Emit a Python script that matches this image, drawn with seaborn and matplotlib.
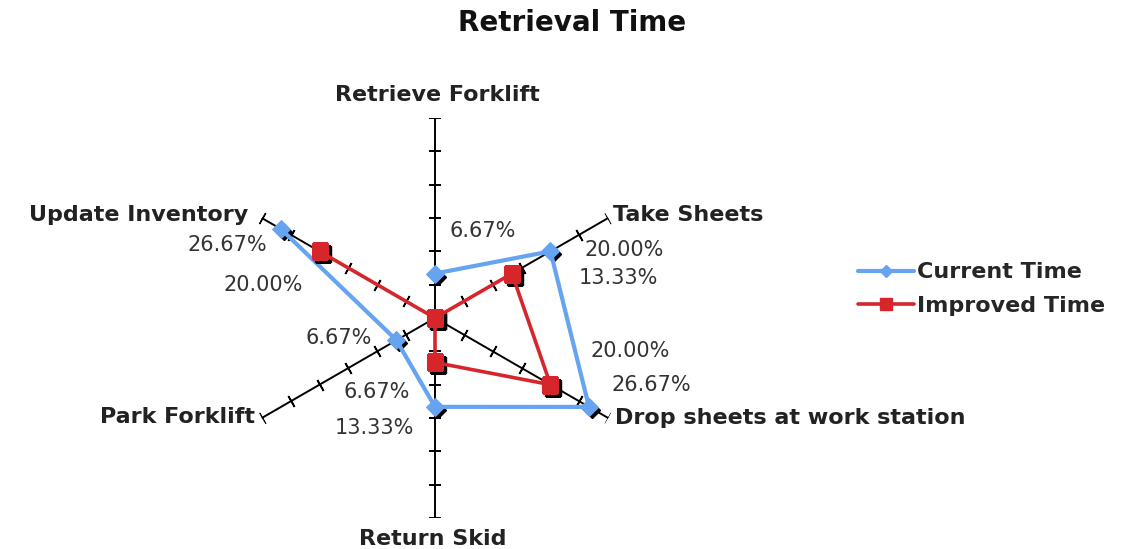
import numpy as np
import pandas as pd
import matplotlib
matplotlib.use("Agg")
import matplotlib.pyplot as plt
import matplotlib.transforms as mtransforms
from matplotlib.lines import Line2D
import seaborn as sns

# date
categories = ["Retrieve Forklift", "Take Sheets", "Drop sheets at work station",
              "Return Skid", "Park Forklift", "Update Inventory"]
current_time = [6.67, 20.00, 26.67, 13.33, 6.67, 26.67]
improved_time = [0.0, 13.33, 20.00, 6.67, 0.0, 20.00]
r_max = 30
r_ticks = [5, 10, 15, 20, 25, 30]

blue = "#66a3f0"
red = "#d7252c"
label_col = "#333333"

sns.set_style("white")
plt.rcParams["font.family"] = ["DejaVu Sans"]

fig = plt.figure(figsize=(11.25, 5.49), dpi=100)
ax = fig.add_axes([235 / 1125, 31 / 549, 400 / 1125, 400 / 549], projection="polar")
ax.set_theta_zero_location("N")
ax.set_theta_direction(-1)
ax.set_ylim(0, r_max)
ax.grid(False)
ax.spines["polar"].set_visible(False)
ax.set_facecolor("none")

angles = np.deg2rad(np.arange(len(categories)) * 60)

# axele (spite) cu gradatii
for i, th in enumerate(angles):
    ax.plot([th, th], [0, r_max], color="black", lw=1.4, zorder=1)
    phi = 90 - 60 * i
    ax.plot([th] * len(r_ticks), r_ticks, ls="none", marker=(2, 2, phi),
            markersize=9, mec="black", mew=1.2, zorder=1)


def closed(vals):
    return pd.DataFrame({"theta": list(angles) + [angles[0]],
                         "r": list(vals) + [vals[0]]})


shadow = mtransforms.offset_copy(ax.transData, fig=fig, x=3, y=-3, units="dots")

# umbre negre sub markere
ax.plot(angles, current_time, ls="none", marker="D", markersize=8, color="black",
        transform=shadow, zorder=2)
ax.plot(angles, improved_time, ls="none", marker="s", markersize=11, color="black",
        transform=shadow, zorder=4)

sns.lineplot(data=closed(current_time), x="theta", y="r", sort=False, ax=ax,
             color=blue, lw=3, marker="D", markersize=9, mec=blue, zorder=3, legend=False)
sns.lineplot(data=closed(improved_time), x="theta", y="r", sort=False, ax=ax,
             color=red, lw=2.6, marker="s", markersize=12, mec=red, zorder=5, legend=False)
ax.set_xlabel("")
ax.set_ylabel("")
ax.set_xticks([])
ax.set_yticks([])
ax.set_ylim(0, r_max)

# etichete de valori
cur_offsets = [(48, 43), (74, 1), (62, 22), (-61, -21), (-58, 2), (-54, -16)]
imp_offsets = [None, (106, -4), (80, 34), (-58, -30), None, (-56, -34)]
for th, v, off in zip(angles, current_time, cur_offsets):
    ax.annotate(f"{v:.2f}%", xy=(th, v), xytext=off, textcoords="offset pixels",
                ha="center", va="center", fontsize=15, color=label_col)
for th, v, off in zip(angles, improved_time, imp_offsets):
    if off is None:
        continue
    ax.annotate(f"{v:.2f}%", xy=(th, v), xytext=off, textcoords="offset pixels",
                ha="center", va="center", fontsize=15, color=label_col)

# etichete de categorii
cat_pos = [((2, 23), "center", "center"), ((5, 3), "left", "center"),
           ((7, 0), "left", "center"), ((-2, -11), "center", "top"),
           ((-7, 1), "right", "center"), ((-14, 3), "right", "center")]
for th, name, (off, ha, va) in zip(angles, categories, cat_pos):
    ax.annotate(name, xy=(th, r_max), xytext=off, textcoords="offset pixels",
                ha=ha, va=va, fontsize=16, fontweight="bold", color="#222222")

fig.text(572 / 1125, 1 - 23 / 549, "Retrieval Time", ha="center", va="center",
         fontsize=20, fontweight="bold", color="#111111")

handles = [Line2D([], [], color=blue, lw=3, marker="D", markersize=6, mec=blue),
           Line2D([], [], color=red, lw=2.6, marker="s", markersize=8, mec=red)]
fig.legend(handles, ["Current Time", "Improved Time"], loc="center left",
           bbox_to_anchor=(838 / 1125, 1 - 289 / 549), frameon=False,
           handlelength=2.5, handletextpad=0.15, labelspacing=0.6,
           prop={"size": 16, "weight": "bold"})

fig.savefig("out.png", dpi=100, facecolor="white")
